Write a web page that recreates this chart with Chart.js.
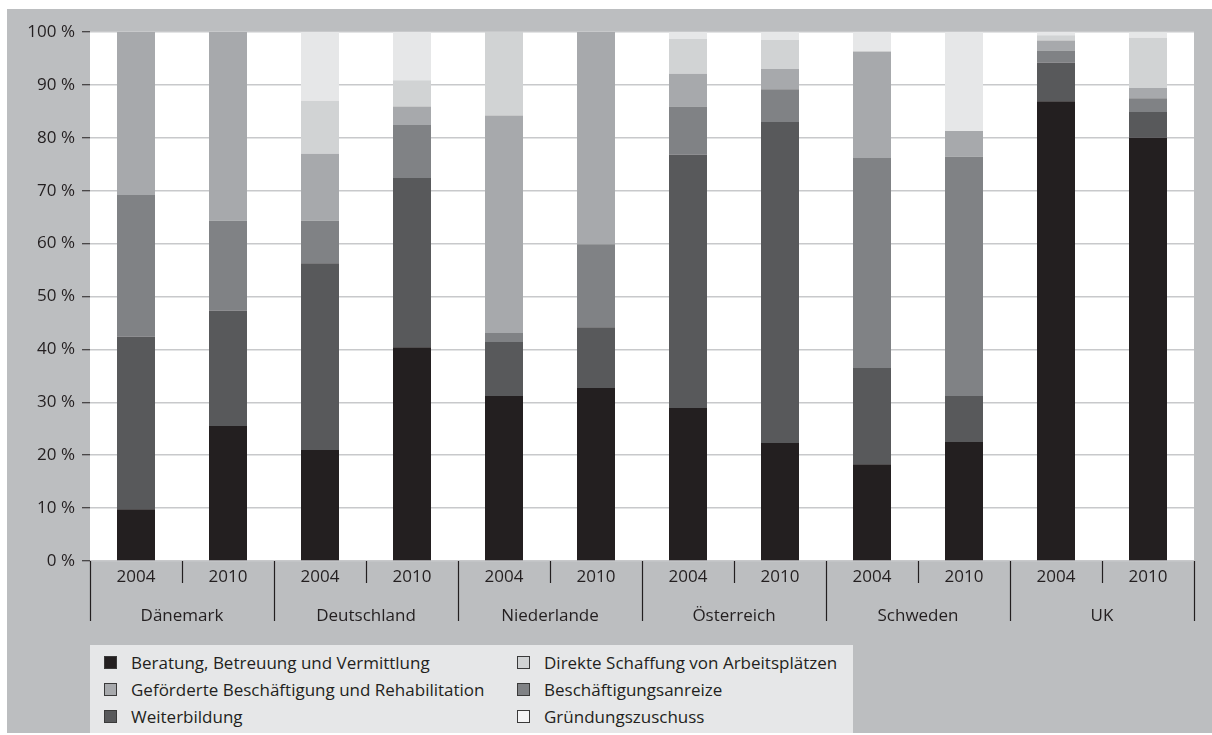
<!DOCTYPE html>
<html lang="de">
<head>
<meta charset="utf-8">
<title>Ausgaben nach Maßnahmenart</title>
<script src="https://cdn.jsdelivr.net/npm/chart.js@4"></script>
<style>
  html, body { margin: 0; padding: 0; background: #fff; }
  body { width: 1212px; height: 735px; position: relative; overflow: hidden; font-family: "Open Sans", sans-serif; }
  #chart { position: absolute; left: 0; top: 0; }
  #legend {
    position: absolute; left: 90px; top: 645px; width: 763px; height: 88px;
    background: #e6e7e8; box-sizing: border-box; padding: 4px 0 0 14px;
    display: grid; grid-template-rows: repeat(3, 27px); grid-auto-flow: column;
    grid-template-columns: 413px auto;
  }
  .legend-item { display: flex; align-items: center; font-size: 17px; color: #231f20; white-space: nowrap; }
  .legend-box { width: 11px; height: 11px; border: 1px solid #3a3a3a; margin-right: 14px; flex: none; }
</style>
</head>
<body>
<canvas id="chart" width="1212" height="735"></canvas>
<div id="legend"></div>
<script>
// --- Data (Anteile in %) ---
const countries = ['Dänemark', 'Deutschland', 'Niederlande', 'Österreich', 'Schweden', 'UK'];
const years = ['2004', '2010'];
const yTicks = [0, 10, 20, 30, 40, 50, 60, 70, 80, 90, 100];

const beratung      = [9.8, 25.5, 21.0, 40.4, 31.2, 32.7, 28.9, 22.3, 18.3, 22.5, 86.9, 80.0];
const weiterbildung = [32.6, 21.8, 35.3, 32.0, 10.2, 11.5, 47.9, 60.7, 18.2, 8.7, 7.3, 4.9];
const anreize       = [26.8, 17.0, 8.0, 10.0, 1.7, 15.7, 9.1, 6.2, 39.7, 45.2, 2.3, 2.6];
const gefoerderte   = [30.8, 35.7, 12.7, 3.5, 41.1, 40.1, 6.2, 3.8, 20.1, 4.9, 1.9, 1.9];
const direkte       = [0, 0, 10.0, 5.0, 15.8, 0, 6.6, 5.5, 0, 0, 1.0, 9.5];
const gruendung     = [0, 0, 13.0, 9.1, 0, 0, 1.3, 1.5, 3.7, 18.7, 0.6, 1.0];

const textColor = '#231f20';
const fontFamily = '"Open Sans", sans-serif';

// stacked from bottom to top
const datasets = [
    { label: 'Beratung, Betreuung und Vermittlung', data: beratung, backgroundColor: '#231f20' },
    { label: 'Weiterbildung', data: weiterbildung, backgroundColor: '#58595b' },
    { label: 'Beschäftigungsanreize', data: anreize, backgroundColor: '#808285' },
    { label: 'Geförderte Beschäftigung und Rehabilitation', data: gefoerderte, backgroundColor: '#a7a9ac' },
    { label: 'Direkte Schaffung von Arbeitsplätzen', data: direkte, backgroundColor: '#d1d3d4' },
    { label: 'Gründungszuschuss', data: gruendung, backgroundColor: '#e6e7e8' }
];
// legend runs down two columns
const legendOrder = [0, 3, 1, 4, 2, 5];

const labels = countries.flatMap(() => years);

// gray frame + white plot area
const framePlugin = {
    id: 'frame',
    beforeDraw(chart) {
        const { ctx, chartArea } = chart;
        ctx.save();
        ctx.fillStyle = '#bcbec0';
        ctx.fillRect(7, 9, chart.width - 7, 724);
        ctx.fillStyle = '#ffffff';
        ctx.fillRect(chartArea.left, chartArea.top, chartArea.right - chartArea.left, chartArea.bottom - chartArea.top);
        ctx.restore();
    }
};

// second axis row: country names and separators
const groupAxisPlugin = {
    id: 'groupAxis',
    afterDraw(chart) {
        const { ctx, chartArea } = chart;
        const x = chart.scales.x;
        const half = (x.getPixelForValue(1) - x.getPixelForValue(0)) / 2;
        const top = chartArea.bottom;
        ctx.save();
        ctx.strokeStyle = textColor;
        ctx.lineWidth = 1.2;
        for (let i = 0; i <= labels.length; i++) {
            const px = Math.round(x.getPixelForValue(Math.min(i, labels.length - 1)) + (i === labels.length ? half : -half)) + 0.5;
            const long = i % years.length === 0;
            ctx.beginPath();
            ctx.moveTo(px, top);
            ctx.lineTo(px, top + (long ? 60 : 22));
            ctx.stroke();
        }
        ctx.fillStyle = textColor;
        ctx.font = '17px ' + fontFamily;
        ctx.textAlign = 'center';
        ctx.textBaseline = 'middle';
        countries.forEach((name, i) => {
            const a = x.getPixelForValue(i * 2);
            const b = x.getPixelForValue(i * 2 + 1);
            ctx.fillText(name, (a + b) / 2, top + 55);
        });
        ctx.restore();
    }
};

const ctx = document.getElementById('chart').getContext('2d');
const chart = new Chart(ctx, {
    type: 'bar',
    data: { labels: labels, datasets: datasets },
    options: {
        responsive: false,
        animation: false,
        layout: { padding: { left: 0, top: 32, right: 18, bottom: 0 } },
        datasets: {
            bar: { categoryPercentage: 1, barPercentage: 0.413, borderWidth: 0 }
        },
        scales: {
            x: {
                stacked: true,
                grid: { display: false, drawTicks: false },
                border: { display: false },
                ticks: { color: textColor, font: { family: fontFamily, size: 17 }, padding: 6, maxRotation: 0, autoSkip: false },
                afterFit(scale) { scale.height = 174; }
            },
            y: {
                stacked: true,
                min: 0,
                max: 100,
                afterBuildTicks(scale) { scale.ticks = yTicks.map(v => ({ value: v })); },
                grid: { color: '#c8c9cb', lineWidth: 1.5, tickColor: textColor, tickLength: 8, tickWidth: 1 },
                border: { display: false },
                ticks: {
                    color: textColor,
                    font: { family: fontFamily, size: 17 },
                    padding: 7,
                    callback: v => v + ' %'
                },
                afterFit(scale) { scale.width = 90; }
            }
        },
        plugins: {
            legend: { display: false },
            tooltip: { enabled: false }
        }
    },
    plugins: [framePlugin, groupAxisPlugin]
});

// --- HTML legend ---
const legendEl = document.getElementById('legend');
legendOrder.forEach(idx => {
    const ds = chart.data.datasets[idx];
    const item = document.createElement('div');
    item.className = 'legend-item';
    item.innerHTML = '<span class="legend-box" style="background:' + (idx === 5 ? '#f4f4f5' : ds.backgroundColor) + '"></span>' + ds.label;
    legendEl.appendChild(item);
});
</script>
</body>
</html>
